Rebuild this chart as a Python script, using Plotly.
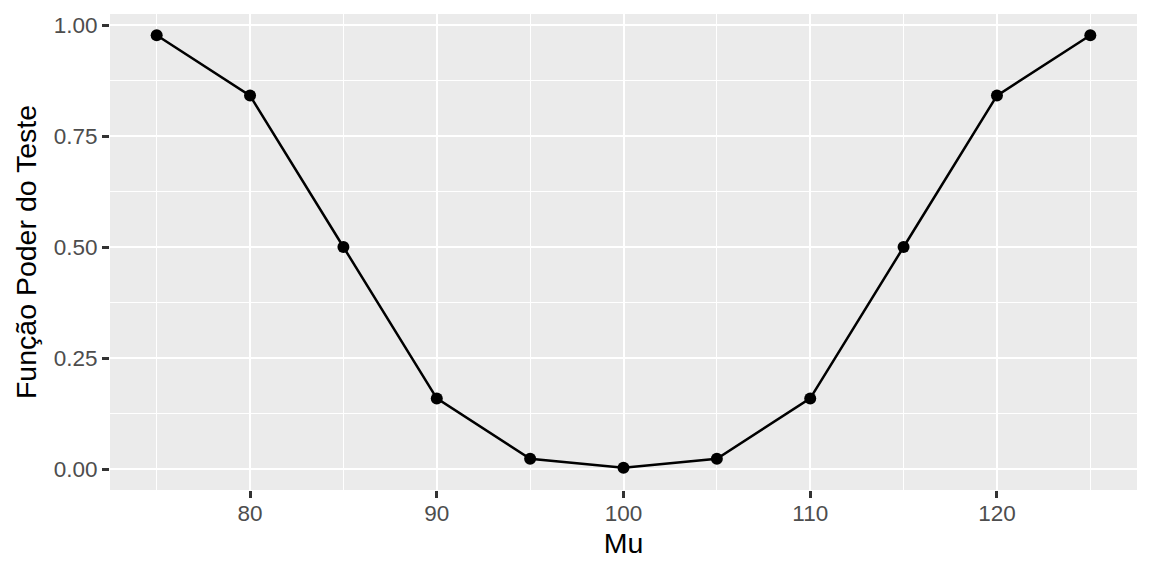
import plotly.graph_objects as go

mu = [75, 80, 85, 90, 95, 100, 105, 110, 115, 120, 125]
poder = [0.977, 0.841, 0.500, 0.159, 0.023, 0.0027, 0.023, 0.159, 0.500, 0.841, 0.977]

fig = go.Figure()
fig.add_trace(go.Scatter(
    x=mu, y=poder, mode="lines+markers",
    line=dict(color="black", width=2.5),
    marker=dict(color="black", size=12),
    showlegend=False,
))

axis_common = dict(
    showgrid=True, gridcolor="white", gridwidth=2.2,
    zeroline=False, showline=False,
    ticks="outside", ticklen=7, tickwidth=2.6, tickcolor="#333333",
    tickfont=dict(family="Liberation Sans", size=22.5, color="#4D4D4D"),
)

fig.update_layout(
    width=1136, height=560,
    paper_bgcolor="white", plot_bgcolor="#EBEBEB",
    margin=dict(l=102, r=7, t=6, b=78),
    font=dict(family="Liberation Sans"),
    xaxis=dict(
        **axis_common,
        range=[72.5, 127.5], tick0=80, dtick=10,
        ticklabelstandoff=-4,
        minor=dict(dtick=5, tick0=75, showgrid=True, gridcolor="white", gridwidth=1.1, ticks=""),
        title=dict(text="Mu", font=dict(size=28.5, color="black"), standoff=8),
    ),
    yaxis=dict(
        **axis_common,
        range=[-0.0473, 1.0248], tick0=0, dtick=0.25, tickformat=".2f",
        minor=dict(dtick=0.125, tick0=0, showgrid=True, gridcolor="white", gridwidth=1.1, ticks=""),
        title=dict(text="Função Poder do Teste", font=dict(size=28.5, color="black"), standoff=8),
    ),
)

fig.write_html("out.html")
